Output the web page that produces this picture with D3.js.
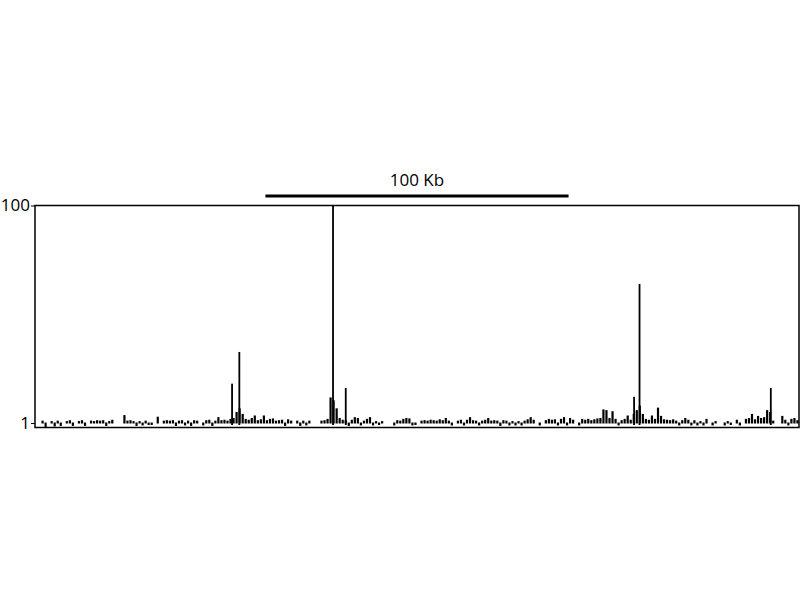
<!DOCTYPE html>
<html><head><meta charset="utf-8">
<script src="https://cdn.jsdelivr.net/npm/d3@7/dist/d3.min.js"></script>
<style>body{margin:0;background:#fff}svg{display:block}</style>
</head><body>
<svg id="c" width="800" height="600"></svg>
<script>
// signal per 1 kb bin (log-scaled coverage), 1 = no signal drawn
const bins = [
1,1,1.04,0.93,1,1.03,0.94,1.04,0.95,1,
1.03,1.05,0.95,1,1.03,1.05,0.95,1,1.04,1.03,
1.05,1.04,1.05,0.95,1.03,1.06,1,1,1,1.17,
1.04,1.05,1.03,0.95,1.03,0.96,1.04,0.97,0.97,1,
1.13,1,1.04,1.05,1.04,1.05,0.95,1.04,1.05,0.96,
1.04,0.95,1.05,1.04,1,0.96,1.05,1.06,0.95,1.04,
1.12,1.05,1.06,1.04,1.08,1.1,1.25,1.35,1.2,1.08,
1.06,1.1,1.16,1.05,1.07,1.16,1.05,1.08,1.09,1.04,
1.05,1.06,0.95,1.07,1.04,1,1.04,0.95,1.04,0.96,
1.04,1,1,1,1.04,1.05,1.08,1.7,1.6,1.35,
1.1,1.06,1.05,0.95,1.06,1.12,1.1,0.96,1.04,1.08,
1.12,0.96,1.03,0.97,1.03,1,1,1,0.96,1.05,
1.04,1.08,1.1,1.09,0.96,0.97,1,1.04,1.05,1.04,
1.06,1.05,1.04,1.07,1.05,1.1,1.04,0.96,1,1.04,
1.06,0.96,1.06,1.12,1.05,1.04,0.96,1.04,1.06,1.1,
1.04,1.05,1.04,0.95,1.05,1.04,0.96,1.03,0.96,1.03,
0.96,1.04,1.07,1.12,1.06,1,0.96,1,1.05,1.08,
1.06,1.07,0.96,1.08,1.12,0.96,1.1,1.06,1,0.96,
1.08,1.06,1.08,1.05,1.07,1.09,1.1,1.32,1.3,1.1,
1.27,1.08,0.96,1.05,1.08,1.16,1.06,1.2,1.3,1.43,
1.2,1.08,1.06,1.16,1.08,1.37,1.15,1.07,1.06,1.05,
1.07,1.04,0.96,1.05,1.1,1.06,0.96,1.05,0.96,1.03,
0.96,1.08,1,0.96,1.03,1,1,0.96,1.03,0.97,
1,1.06,0.96,1,1.08,1.1,1.2,1.07,1.15,1.1,
1.12,1.3,1.25,1.04,1,1,1.15,1.06,0.96,1.08,
1.1,1.05
];
// narrow peaks: position (kb) and value
const peakPos = [65.0, 67.4, 98.3, 102.5, 197.6, 199.4, 242.7];
const peakVal = [2.3, 4.5, 100, 2.1, 1.74, 19, 2.1];
const yTicks = [1, 100];
const scaleBarStart = 76, scaleBarLen = 100, scaleBarLabel = "100 Kb";

const svg = d3.select("#c");
const L = 35, R = 799, T = 205.5, B = 427.5;
const x = d3.scaleLinear().domain([0, bins.length]).range([L, R]);
const y = d3.scaleLog().domain([1, 100]).range([423, T]);

svg.append("clipPath").attr("id","clip").append("rect")
  .attr("x", L).attr("y", T).attr("width", R-L).attr("height", B-T);
const g = svg.append("g").attr("clip-path","url(#clip)");

g.selectAll("rect.bin").data(bins).join("rect")
  .attr("class","bin")
  .attr("x", (d,i) => x(i) + 0.4)
  .attr("width", 2.2)
  .attr("y", d => Math.min(y(d), y(1)) - 0.5)
  .attr("height", d => d === 1 ? 0 : Math.abs(y(d) - y(1)) + 1)
  .attr("fill", "#000");

g.selectAll("rect.peak").data(peakPos).join("rect")
  .attr("class","peak")
  .attr("x", d => x(d) - 0.9)
  .attr("width", 1.8)
  .attr("y", (d,i) => y(peakVal[i]))
  .attr("height", (d,i) => y(1) - y(peakVal[i]) + 2)
  .attr("fill", "#000");

// frame
svg.append("rect").attr("x", L).attr("y", T).attr("width", R-L).attr("height", B-T)
  .attr("fill","none").attr("stroke","#000").attr("stroke-width",1.5);

// y axis ticks and labels
const ax = svg.append("g").attr("transform", `translate(${L},0)`)
  .call(d3.axisLeft(y).tickValues(yTicks).tickFormat(d3.format("d")).tickSize(4).tickPadding(1));
ax.select(".domain").remove();
ax.selectAll("text").attr("font-family","Open Sans, sans-serif").attr("font-size",17).attr("fill","#000");
ax.selectAll("line").attr("stroke","#000");

// scale bar
svg.append("line")
  .attr("x1", x(scaleBarStart)).attr("x2", x(scaleBarStart + scaleBarLen))
  .attr("y1", 196).attr("y2", 196).attr("stroke","#000").attr("stroke-width",3);
svg.append("text")
  .attr("x", (x(scaleBarStart) + x(scaleBarStart + scaleBarLen)) / 2)
  .attr("y", 186).attr("text-anchor","middle")
  .attr("font-family","Open Sans, sans-serif").attr("font-size",17).attr("fill","#000")
  .text(scaleBarLabel);
</script>
</body></html>
